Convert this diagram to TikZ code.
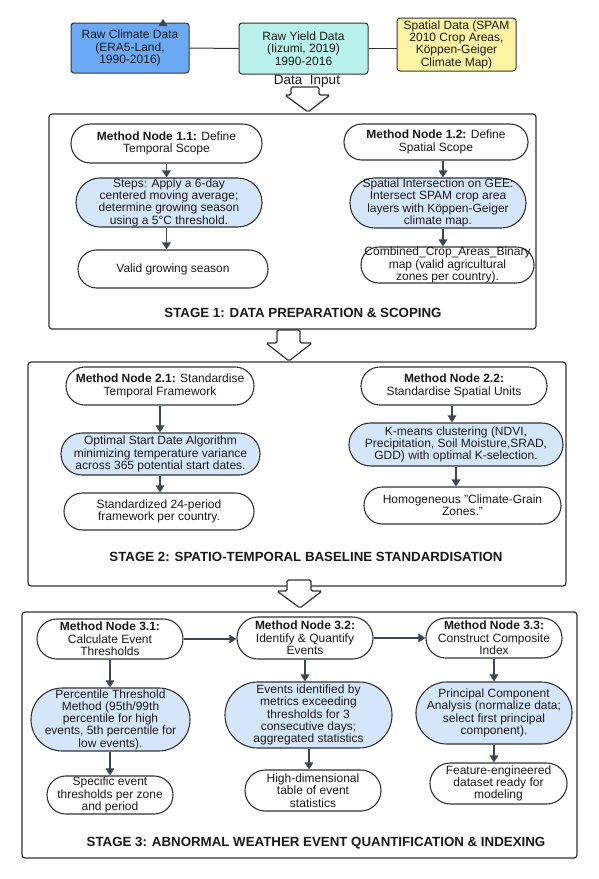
\documentclass[tikz,border=0pt]{standalone}
\usepackage{fontspec}
\setmainfont{Liberation Sans}
\usetikzlibrary{arrows.meta}
\definecolor{bord}{HTML}{333333}
\definecolor{arrc}{HTML}{3E4450}
\definecolor{bluefill}{HTML}{D6E6FA}
\definecolor{climfill}{HTML}{6AA9F4}
\definecolor{yieldfill}{HTML}{B8F2EB}
\definecolor{spatfill}{HTML}{FDF3A3}
\definecolor{txt}{HTML}{1A1A1A}
\newcommand\nodefnt{\fontsize{12}{12.3}\selectfont}
\newcommand\titlefnt{\fontsize{13.3}{15}\selectfont\bfseries}
\begin{document}
\begin{tikzpicture}[x=1pt,y=-1pt,
  base/.style={draw=bord, line width=1.1pt, inner sep=0pt, align=center, font=\nodefnt, text=txt},
  pill/.style={base, rectangle, minimum height=#1, rounded corners=#1/2-0.2},
  wpill/.style={pill=#1, fill=white},
  bpill/.style={pill=#1, fill=bluefill},
  topbox/.style={base, rectangle, rounded corners=3pt, line width=1pt},
  stagebox/.style={draw=bord, line width=1.2pt, rounded corners=3pt, inner sep=0pt},
  stagetitle/.style={font=\titlefnt, text=txt, inner sep=0pt},
  arr/.style={draw=arrc, line width=1.6pt, -{Triangle[width=8.5pt,length=7pt]}},
  link/.style={draw=bord, line width=1pt},
  hollow/.style={draw=bord, line width=1.2pt, fill=white, line join=miter}
]
\useasboundingbox (0,0) rectangle (599,879);

% ---------- top inputs ----------
\node[topbox, fill=climfill, minimum width=118, minimum height=50] (clim) at (130,48)
  {Raw Climate Data\\(ERA5-Land,\\1990-2016)};
\node[topbox, fill=yieldfill, minimum width=129, minimum height=51] (yield) at (303.5,48.5)
  {Raw Yield Data\\(Iizumi, 2019)\\1990-2016};
\node[topbox, fill=spatfill, minimum width=119, minimum height=53] (spat) at (456.5,44.5)
  {Spatial Data (SPAM\\2010 Crop Areas,\\Köppen-Geiger\\Climate Map)};
\draw[link] (clim.east) -- (yield.west);
\draw[link] (yield.east) -- (yield.east -| spat.west);
\coordinate (tri) at (163,26);
\fill[arrc] (tri) ++(-4.5,0) -- ++(9,0) -- ++(-4.5,-7) -- cycle;
\node[font=\fontsize{13.5}{15}\selectfont, text=txt, inner sep=0pt] (din) at (307,81) {Data\ \ Input};

% hollow arrow 0
\draw[hollow, rounded corners=1.5pt] (308,112) -- (285,95) -- (291,95) -- (291,87) -- (319,87) -- (319,95) -- (330,95) -- cycle;

% ---------- stage 1 ----------
\node[stagebox, minimum width=487, minimum height=215] (stage1) at (292.5,221.5) {};
\node[wpill=39, minimum width=191] (n11) at (166.5,143.5) {\textbf{Method Node 1.1:} Define\\Temporal Scope};
\node[bpill=49, minimum width=186] (s11) at (169,202.5) {Steps: Apply a 6-day\\centered moving average;\\determine growing season\\using a 5°C threshold.};
\node[wpill=38, minimum width=190] (v11) at (173,269) {Valid growing season};
\node[wpill=36, minimum width=184] (n12) at (436,142) {\textbf{Method Node 1.2:} Define\\Spatial Scope};
\node[bpill=50, minimum width=176] (s12) at (438,203) {Spatial Intersection on GEE:\\Intersect SPAM crop area\\layers with Köppen-Geiger\\climate map.};
\node[wpill=36, minimum width=173] (v12) at (447.5,265) {Combined\_Crop\_Areas\_Binary\\map (valid agricultural\\zones per country).};
\draw[arr] (n11.south) -- (n11.south |- s11.north);
\draw[arr] (n11.south |- s11.south) -- (n11.south |- v11.north);
\draw[arr] ([xshift=7pt]n12.south) -- ([xshift=7pt]n12.south |- s12.north);
\draw[arr] ([xshift=7pt]n12.south |- s12.south) -- ([xshift=7pt]n12.south |- v12.north);
\node[stagetitle] (t1) at (303,313) {STAGE 1: DATA PREPARATION \& SCOPING};

% hollow arrow 1
\draw[hollow, rounded corners=1.5pt] (289,361) -- (266,343) -- (277,343) -- (277,330) -- (300,330) -- (300,343) -- (312,343) -- cycle;

% ---------- stage 2 ----------
\node[stagebox, minimum width=538, minimum height=224] (stage2) at (297,474) {};
\node[wpill=38, minimum width=188] (n21) at (160,386) {\textbf{Method Node 2.1:} Standardise\\Temporal Framework};
\node[bpill=42, minimum width=199] (s21) at (160.5,454) {Optimal Start Date Algorithm\\minimizing temperature variance\\across 365 potential start dates.};
\node[wpill=37, minimum width=190] (v21) at (159,511.5) {Standardized 24-period\\framework per country.};
\node[wpill=38, minimum width=186] (n22) at (454,386) {\textbf{Method Node 2.2:}\\Standardise Spatial Units};
\node[bpill=43, minimum width=214] (s22) at (456,444.5) {K-means clustering (NDVI,\\Precipitation, Soil Moisture,SRAD,\\GDD) with optimal K-selection.};
\node[wpill=37, minimum width=197] (v22) at (462.5,505.5) {Homogeneous "Climate-Grain\\Zones."};
\draw[arr] (n21.south) -- (n21.south |- s21.north);
\draw[arr] (n21.south |- s21.south) -- (n21.south |- v21.north);
\draw[arr] ([xshift=-2pt]n22.south) -- ([xshift=-2pt]n22.south |- s22.north);
\draw[arr] ([xshift=2pt]n22.south |- s22.south) -- ([xshift=2pt]n22.south |- v22.north);
\node[stagetitle] (t2) at (306,557) {STAGE 2: SPATIO-TEMPORAL BASELINE STANDARDISATION};

% hollow arrow 2
\draw[hollow, rounded corners=1.5pt] (300,608) -- (277,591) -- (287,591) -- (287,580) -- (311,580) -- (311,591) -- (322,591) -- cycle;

% ---------- stage 3 ----------
\node[stagebox, minimum width=555, minimum height=246] (stage3) at (299.5,735) {};
\node[wpill=40, minimum width=146] (n31) at (110,639) {\textbf{Method Node 3.1:}\\Calculate Event\\Thresholds};
\node[wpill=42, minimum width=136] (n32) at (305,638) {\textbf{Method Node 3.2:}\\Identify \& Quantify\\Events};
\node[wpill=40, minimum width=136] (n33) at (494,638) {\textbf{Method Node 3.3:}\\Construct Composite\\Index};
\node[bpill=63, minimum width=159] (s31) at (110.5,719.5) {Percentile Threshold\\Method (95th/99th\\percentile for high\\events, 5th percentile for\\low events).};
\node[bpill=66, minimum width=167] (s32) at (308.5,715) {Events identified by\\metrics exceeding\\thresholds for 3\\consecutive days;\\aggregated statistics};
\node[bpill=62, minimum width=156] (s33) at (494,713) {Principal Component\\Analysis (normalize data;\\select first principal\\component).};
\node[wpill=38, minimum width=126] (v31) at (110,795) {Specific event\\thresholds per zone\\and period};
\node[wpill=41, minimum width=136] (v32) at (313,790.5) {High-dimensional\\table of event\\statistics};
\node[wpill=41, minimum width=137] (v33) at (498.5,783.5) {Feature-engineered\\dataset ready for\\modeling};
\draw[arr] (n31.east) -- (n31.east -| n32.west);
\draw[arr] (n32.east) -- (n32.east -| n33.west);
\draw[arr] (n31.south) -- (n31.south |- s31.north);
\draw[arr] (n31.south |- s31.south) -- (n31.south |- v31.north);
\draw[arr] (n32.south) -- (n32.south |- s32.north);
\draw[arr] ([xshift=4pt]n32.south |- s32.south) -- ([xshift=4pt]n32.south |- v32.north);
\draw[arr] (n33.south) -- (n33.south |- s33.north);
\draw[arr] (n33.south |- s33.south) -- (n33.south |- v33.north);
\node[stagetitle] (t3) at (316,843) {STAGE 3: ABNORMAL WEATHER EVENT QUANTIFICATION \& INDEXING};
\end{tikzpicture}
\end{document}
